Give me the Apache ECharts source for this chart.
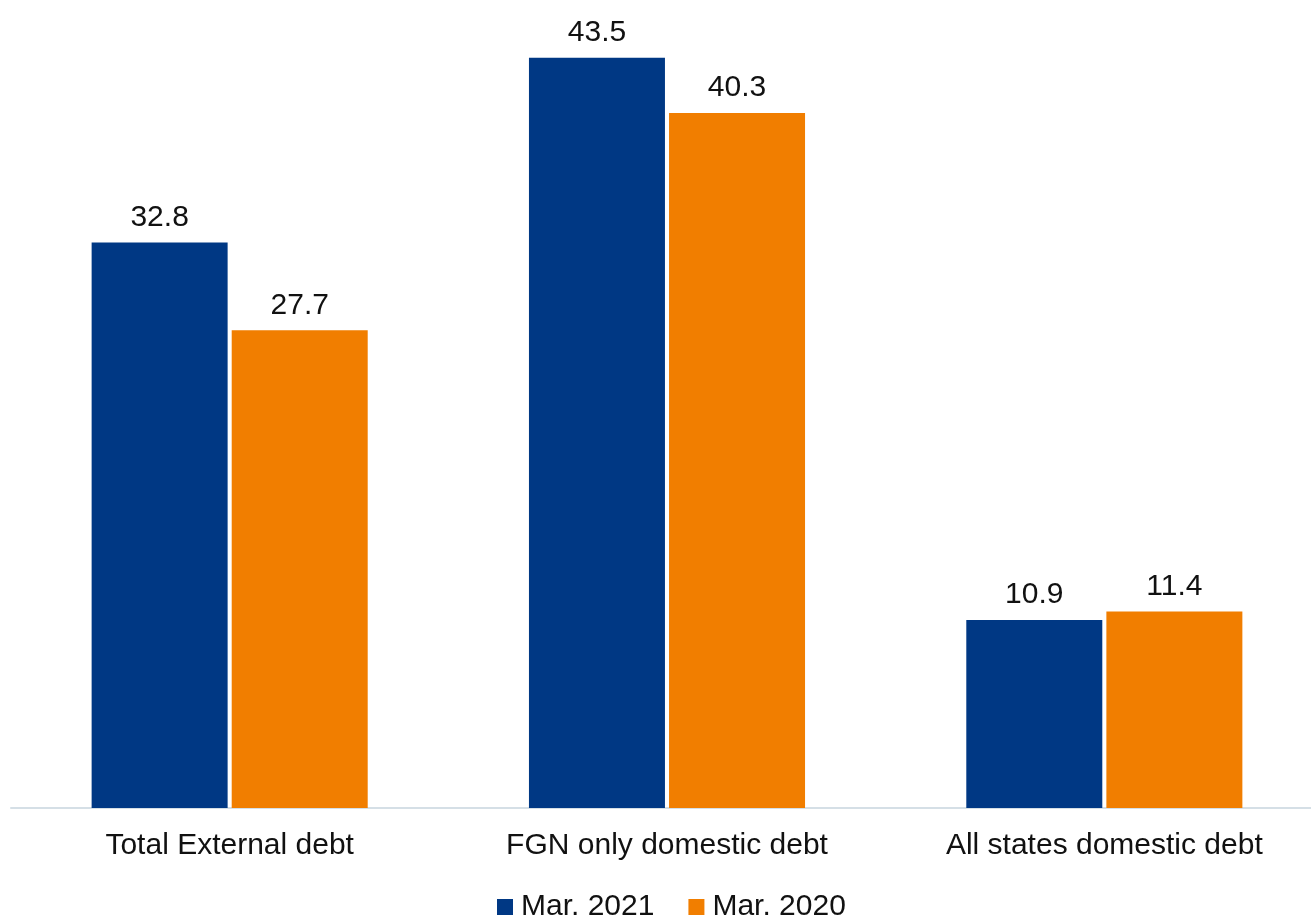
<!DOCTYPE html>
<html><head><meta charset="utf-8">
<script src="https://cdn.jsdelivr.net/npm/echarts@6/dist/echarts.min.js"></script>
<style>html,body{margin:0;padding:0;background:#fff}#c{width:1311px;height:919px}</style>
</head><body><div id="c"></div>
<script>
const categories = ["Total External debt", "FGN only domestic debt", "All states domestic debt"];
const seriesNames = ["Mar. 2021", "Mar. 2020"];
const mar2021 = [32.8, 43.5, 10.9];
const mar2020 = [27.7, 40.3, 11.4];
const colors = ["#003884", "#f17e00"];
const font = "Liberation Sans, Arial, sans-serif";
const chart = echarts.init(document.getElementById('c'));
const mk = (name, data, color) => ({
  name, type: 'bar', data, barWidth: 136, barGap: '3%',
  itemStyle: {color},
  label: {show: true, position: 'top', distance: 10, color: '#111', fontSize: 30, fontFamily: font, formatter: p => p.value.toFixed(1)}
});
chart.setOption({
  animation: false,
  color: colors,
  grid: {left: 11, width: 1312, top: 32, bottom: 111, containLabel: false, outerBoundsMode: 'none'},
  legend: {top: 887, left: 492, itemWidth: 16, itemHeight: 16, itemGap: 34, icon: 'rect',
    textStyle: {fontSize: 30, fontFamily: font, color: '#111', padding: [0, 0, 0, 3]}, data: seriesNames},
  xAxis: {type: 'category', data: categories,
    axisLine: {lineStyle: {color: '#d5dfe6', width: 2}}, axisTick: {show: false},
    axisLabel: {fontSize: 30, fontFamily: font, color: '#111', margin: 23}},
  yAxis: {type: 'value', min: 0, max: 45, show: false, splitLine: {show: false}},
  series: [mk(seriesNames[0], mar2021, colors[0]), mk(seriesNames[1], mar2020, colors[1])]
});
</script></body></html>
